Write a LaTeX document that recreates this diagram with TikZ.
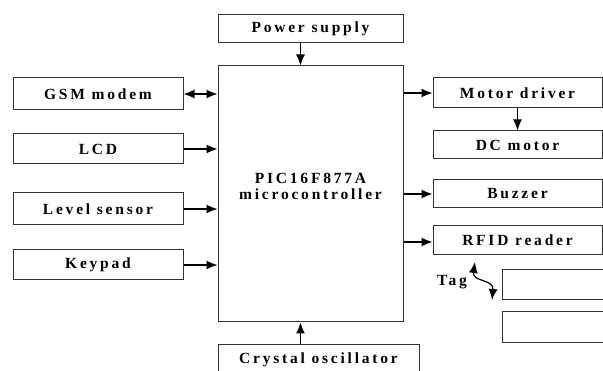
\documentclass[tikz,border=0pt]{standalone}
\usepackage{fontspec}
\newfontfamily\blockfont{Liberation Serif}[LetterSpace=18]
\usetikzlibrary{
    arrows.meta,
    positioning
}
\definecolor{edgegray}{rgb}{0.2, 0.2, 0.2}
\tikzstyle{blocktext} = [
    font=\blockfont\bfseries\fontsize{15.5}{16}\selectfont
]
\tikzstyle{block} = [
    rectangle,
    draw=edgegray,
    line width=1pt,
    fill=white,
    minimum width=170pt,
    minimum height=30pt,
    inner sep=0pt,
    blocktext
]
\tikzstyle{arrow} = [
    -{Latex[length=11pt,width=9pt]},
    line width=1.2pt,
    draw=black
]
\tikzstyle{darrow} = [
    {Latex[length=11pt,width=9pt]}-{Latex[length=11pt,width=9pt]},
    line width=1.2pt,
    draw=black
]

\begin{document}
\begin{tikzpicture}[x=1pt, y=-1pt]
    \useasboundingbox (0,0) rectangle (603,371);
    \clip (0,0) rectangle (603,371);

    % Microcontroller
    \node[block, minimum width=185pt, minimum height=256pt,
          label={[blocktext, align=center, yshift=8pt]center:PIC16F877A\\microcontroller}] (mcu) at (310.5,194) {};

    % Supply and clock
    \node[block, minimum width=185pt, minimum height=28pt, above=22pt of mcu] (power) {Power supply};
    \node[block, minimum width=201pt, anchor=north west] (crystal) at ([yshift=-22pt]mcu.south west) {Crystal oscillator};

    % Inputs
    \node[block, minimum height=32pt] (gsm) at (98,94) {GSM modem};
    \node[block] (lcd) at (98,149) {LCD};
    \node[block, minimum height=32pt] (level) at (98,209) {Level sensor};
    \node[block] (keypad) at (98,265) {Keypad};

    % Outputs
    \node[block, minimum width=169pt] (motor) at (517.5,93) {Motor driver};
    \node[block, minimum width=169pt, minimum height=28pt, below=22pt of motor] (dc) {DC motor};
    \node[block, minimum width=169pt, minimum height=28pt] (buzzer) at (517.5,194) {Buzzer};
    \node[block, minimum width=169pt, minimum height=29pt, below=17pt of buzzer] (rfid) {RFID reader};

    % Tag
    \node[block, minimum width=150pt, anchor=north west] (tagone) at (502,269) {};
    \node[block, minimum width=150pt, minimum height=31pt, below=11pt of tagone] (tagtwo) {};
    \node[blocktext, inner sep=0pt] (tag) at (452,282) {Tag};
    \coordinate (waveA) at (475,262);
    \coordinate (waveB) at (492,300);

    % Arrows
    \coordinate (feed) at ([xshift=-10pt]power.south);
    \draw[arrow] (feed) -- (feed |- mcu.north);
    \draw[arrow] (feed |- crystal.north) -- (feed |- mcu.south);
    \draw[darrow] (gsm) -- (gsm -| mcu.west);
    \draw[arrow] (lcd) -- (lcd -| mcu.west);
    \draw[arrow] (level) -- (level -| mcu.west);
    \draw[arrow] (keypad) -- (keypad -| mcu.west);
    \draw[arrow] (mcu.east |- motor) -- (motor);
    \draw[arrow] (motor) -- (dc);
    \draw[arrow] (mcu.east |- buzzer) -- (buzzer);
    \draw[arrow] ([yshift=-1.5pt]mcu.east |- rfid) -- ([yshift=-1.5pt]rfid.west);
    \draw[darrow] (waveA) .. controls (472,282) and (494,279) .. (waveB);
\end{tikzpicture}
\end{document}
